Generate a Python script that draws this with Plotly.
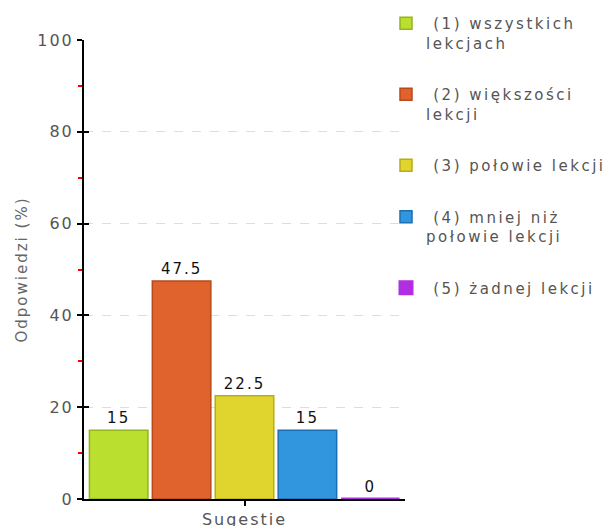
import plotly.graph_objects as go

categories = ["Sugestie"]
series_names = [" (1) wszystkich<br>lekcjach", " (2) większości<br>lekcji", " (3) połowie lekcji",
                " (4) mniej niż<br>połowie lekcji", " (5) żadnej lekcji"]
series_values = [15, 47.5, 22.5, 15, 0]
fill_colors = ["#BADF2E", "#E0622D", "#E0D52E", "#3196DE", "#B02FE0"]
line_colors = ["#93B51C", "#B84A1A", "#B8AC1A", "#1C6FB2", "#B02FE0"]
y_ticks = [0, 20, 40, 60, 80, 100]

FONT = "DejaVu Sans"
fig = go.Figure()
for i, (name, v) in enumerate(zip(series_names, series_values)):
    fig.add_trace(go.Bar(
        x=categories, y=[v], name=name,
        marker=dict(color=fill_colors[i],
                    line=dict(color=line_colors[i], width=3 if v == 0 else 1.5)),
        text=[f"{v:g}"], textposition="outside", cliponaxis=False,
        textfont=dict(family=FONT, size=15, color="#111"),
        legendgroup=f"g{i}",
    ))

fig.update_layout(
    width=605, height=526,
    margin=dict(l=84, r=200, t=40, b=27, autoexpand=False),
    paper_bgcolor="white", plot_bgcolor="white",
    barmode="group", bargap=0.02, bargroupgap=0.07,
    font=dict(family=FONT, size=15, color="#555"),
    showlegend=True,
    legend=dict(xref="container", yref="container", x=386 / 605, y=1 - 7 / 526,
                xanchor="left", yanchor="top", valign="top", maxheight=520,
                bgcolor="rgba(0,0,0,0)",
                font=dict(family=FONT, size=15, color="#555"),
                tracegroupgap=29, itemwidth=30),
    xaxis=dict(showline=True, linecolor="black", linewidth=2, ticks="outside",
               ticklen=5, tickcolor="black", tickwidth=2,
               tickfont=dict(family=FONT, size=16, color="#555")),
    yaxis=dict(range=[0, 100], tickvals=y_ticks, showline=True, linecolor="black", linewidth=2,
               ticks="outside", ticklen=5, tickcolor="black", tickwidth=2,
               tickfont=dict(family=FONT, size=16, color="#555"),
               showgrid=True, gridcolor="#dddddd", griddash="dash", gridwidth=1,
               zeroline=False,
               minor=dict(tick0=10, dtick=20, ticks="outside", ticklen=4, tickcolor="red",
                          tickwidth=1.5, showgrid=False),
               title=dict(text="Odpowiedzi (%)", font=dict(family=FONT, size=15, color="#666"),
                          standoff=12)),
    yaxis2=dict(overlaying="y", matches="y", side="left", showticklabels=False,
                tickvals=y_ticks, ticks="inside", ticklen=5, tickcolor="black", tickwidth=2,
                showgrid=False, showline=False, zeroline=False),
)
fig.add_trace(go.Scatter(x=categories, y=[0], yaxis="y2", mode="markers",
                         marker=dict(opacity=0), showlegend=False, hoverinfo="skip"))

css_js = """
document.body.style.margin = '0';
var s = document.createElement('style');
s.textContent = 'text{letter-spacing:2px;} text.legendtext{letter-spacing:2.5px;} '
  + 'g.scrollbox{clip-path:none !important;}';
document.head.appendChild(s);
"""
fig.write_html("out.html", post_script=css_js, config={"displayModeBar": False})
